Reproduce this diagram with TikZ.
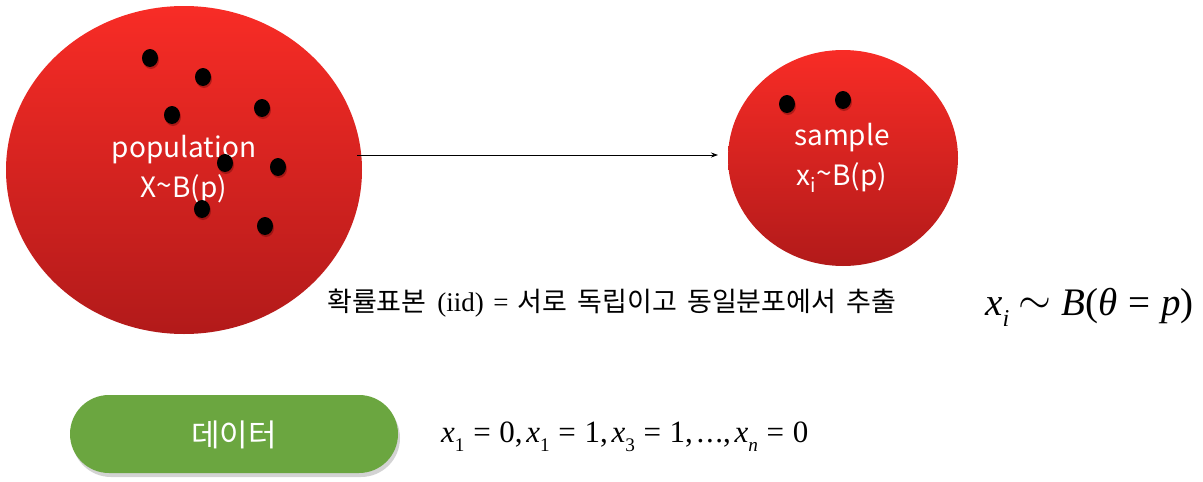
\documentclass[tikz,border=0pt]{standalone}
\usepackage{fontspec}
\usepackage{graphicx}
\setmainfont{Liberation Serif}
\newfontfamily\kor{Noto Sans CJK KR}
\usetikzlibrary{shadows,shapes.geometric,shapes.misc,arrows.meta}
\definecolor{redtop}{HTML}{F82C26}
\definecolor{redbot}{HTML}{B21A1A}
\definecolor{pill}{HTML}{6BA640}
\newcommand\mysub[1]{\raisebox{-0.28em}{\scalebox{0.62}{#1}}}
\newcommand\mysim{\raisebox{0.05em}{\scalebox{1.7}{$\sim$}}}
\newcommand\myeq{\hspace{0.28em}=\hspace{0.28em}}
\newcommand\mycomma{,\hspace{0.12em}}
\tikzset{
  blob/.style={ellipse, draw=none, top color=redtop, bottom color=redbot, inner sep=0pt},
  dot/.style={ellipse, fill=black, minimum width=16pt, minimum height=18pt, inner sep=0pt,
     drop shadow={shadow xshift=1pt, shadow yshift=-2pt, opacity=0.35, fill=black!70!red}},
  lbl/.style={text=white, font=\kor\fontsize{28}{40}\selectfont, align=center},
  conn/.style={draw=black, line width=0.8pt, -{Stealth[length=7pt,width=5pt]}},
}
\begin{document}
\begin{tikzpicture}[x=1pt,y=-1pt]
\useasboundingbox (0,0) rectangle (1203,482);
% population
\node[blob, minimum width=356pt, minimum height=328pt] (pop) at (184,170) {};
\node[lbl] (poplbl) at (184,170) {population\\X\raisebox{2pt}{\~{}}B(p)};
\foreach \n/\x/\y in {a/150/58, b/203/77, c/172/115, d/262/108, e/225/163, f/278/167, g/202/209, h/265/226}
  \node[dot] (p\n) at (\x,\y) {};
% sample
\node[blob, minimum width=230pt, minimum height=216pt] (smp) at (843,158) {};
\node[lbl] (smplbl) at (842,158) {sample\\x\textsubscript{i}\raisebox{2pt}{\~{}}B(p)};
\node[dot] (sa) at (787,104) {};
\node[dot] (sb) at (843,100) {};
% arrow
\coordinate (as) at (357,155);
\coordinate (ae) at (718,155);
\draw[conn] (as) -- (ae);
% caption
\node[anchor=west, font=\fontsize{27}{30}\selectfont, inner sep=0pt] (cap) at (327,303)
  {{\kor 확률표본}\hspace{0.15em} (iid)\hspace{0.1em} =\hspace{0.1em} {\kor 서로\hspace{0.15em} 독립이고\hspace{0.15em} 동일분포에서\hspace{0.15em} 추출}};
\node[anchor=west, inner sep=0pt, font=\fontsize{39}{46}\selectfont] (form) at (985,307)
  {\textit{x}\mysub{\textit{i}}\ \mysim\ \textit{B}(\textit{θ}\myeq\textit{p})};
% data pill
\node[rounded rectangle, fill=pill, minimum width=328pt, minimum height=78pt, inner sep=0pt,
  drop shadow={shadow xshift=2pt, shadow yshift=-4pt, opacity=0.35}] (data) at (234,434) {};
\node[text=white, font=\kor\fontsize{31}{34}\selectfont] (datalbl) at (234,435) {데이터};
\node[anchor=west, inner sep=0pt, font=\fontsize{31}{34}\selectfont] (vals) at (441,437)
  {\textit{x}\mysub{1}\myeq0\mycomma\textit{x}\mysub{1}\myeq1\mycomma\textit{x}\mysub{3}\myeq1\mycomma.\hspace{0.05em}.\hspace{0.05em}.\mycomma\textit{x}\mysub{\textit{n}}\myeq0};
\end{tikzpicture}
\end{document}
